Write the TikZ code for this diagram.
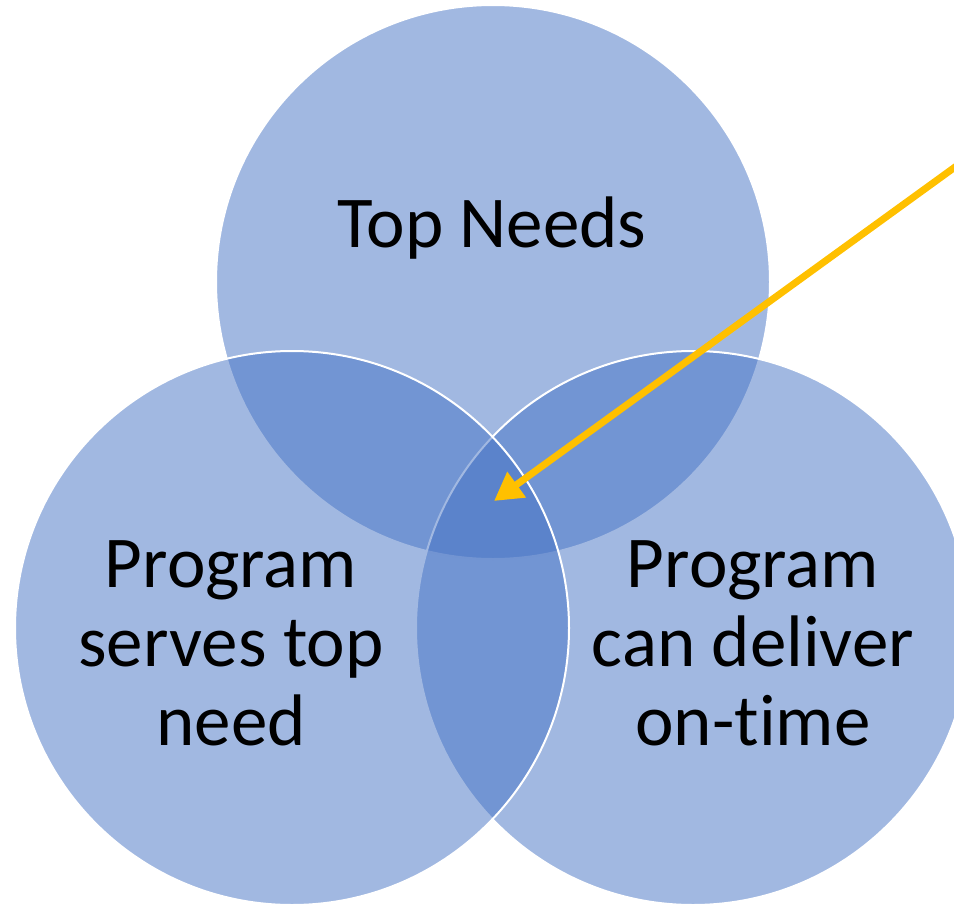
\documentclass[tikz,border=0pt]{standalone}
\usepackage{fontspec}
\setmainfont[Ligatures=NoCommon]{Carlito}
\usetikzlibrary{arrows.meta}
\definecolor{setblue}{HTML}{4472C4}
\definecolor{arrowgold}{HTML}{FFC000}

\begin{document}
\begin{tikzpicture}[x=1pt, y=-1pt,
		set/.style={fill=setblue, fill opacity=0.5, draw=white, line width=2pt},
		lbl/.style={font=\fontsize{73}{79}\selectfont, align=center, anchor=base},
		pointer/.style={draw=arrowgold, line width=7pt, -{Triangle[length=28pt, width=30pt]}}]
		\useasboundingbox (0,0) rectangle (954,905);
		\coordinate (T) at (493,282);
		\coordinate (L) at (292,628);
		\coordinate (R) at (693,628);
		\draw[set] (T) circle (277pt);
		\draw[set] (R) circle (277pt);
		\draw[set] (L) circle (277pt);
		\node[lbl] (needs) at (492,247) {Top Needs};
		\node[lbl] (serves) at (231,745) {Program\\serves top\\need};
		\node[lbl] (deliver) at (753,745) {Program\\can deliver\\on-time};
		\coordinate (start) at (962,162);
		\coordinate (tip) at (494,501);
		\draw[pointer] (start) -- (tip);
	\end{tikzpicture}
\end{document}
